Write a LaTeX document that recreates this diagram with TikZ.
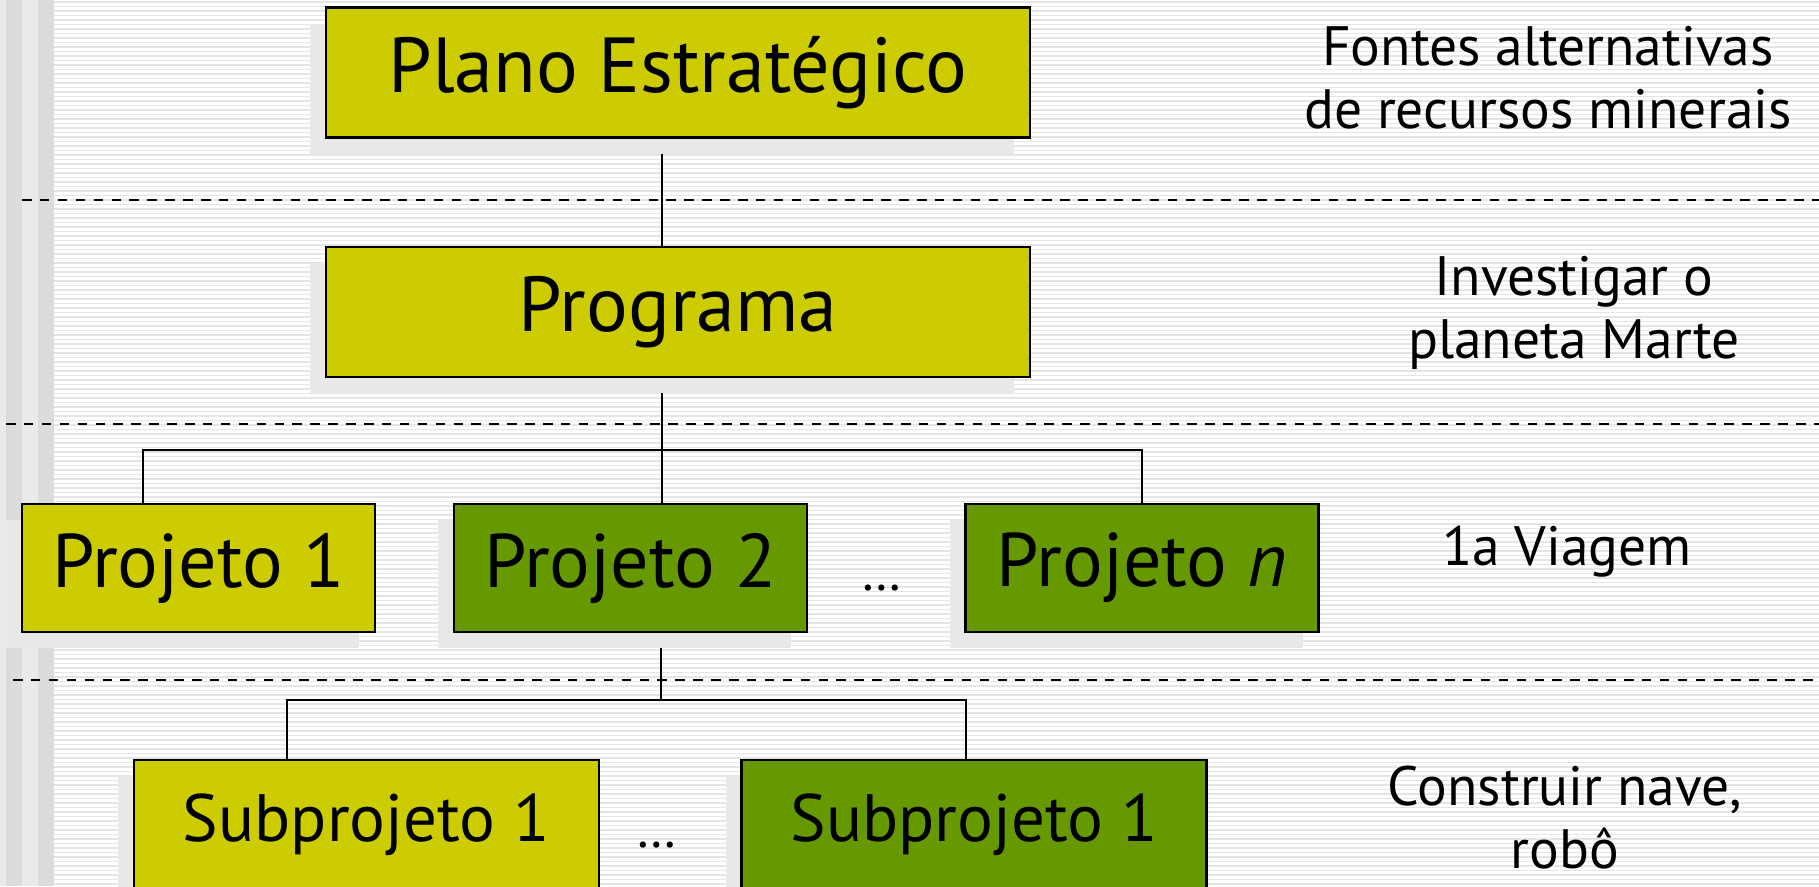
\documentclass[tikz,border=0pt]{standalone}
\usepackage{fontspec}
\setmainfont{PT Sans}
\usepackage{tikz}
\usetikzlibrary{positioning,shadows,calc}
\definecolor{olivebox}{HTML}{CCCC00}
\definecolor{greenbox}{HTML}{669900}
\definecolor{shadowgray}{HTML}{E8E8E8}
\definecolor{stripegray}{HTML}{E5E5E5}
\definecolor{bandgray}{HTML}{DCDCDC}
\definecolor{bandlight}{HTML}{EAEAEA}
\pgfdeclarelayer{bg}
\pgfdeclarelayer{edges}
\pgfsetlayers{bg,edges,main}
\tikzset{
  levelbox/.style = {rectangle, draw=black, line width=2.6pt, text=black,
    font=\fontsize{76}{80}\selectfont,
    general shadow={fill=shadowgray, shadow xshift=-16pt, shadow yshift=-16pt}},
  box_y/.style = {levelbox, fill=olivebox},% caixa amarela
  box_g/.style = {levelbox, fill=greenbox},% caixa verde
  box_wide/.style = {minimum width=704pt, minimum height=130pt,
    font=\fontsize{78}{82}\selectfont},
  box_proj/.style = {minimum width=353pt, minimum height=128pt},
  box_sub/.style = {minimum width=465pt, minimum height=130pt,
    font=\fontsize{67}{70}\selectfont},
  levellabel/.style = {align=center, font=\fontsize{55.5}{63}\selectfont},
  etc/.style = {font=\fontsize{53}{60}\selectfont},
  link/.style = {line width=2pt},
  sep/.style = {dash pattern=on 9.5pt off 8.4pt, line width=2.8pt}
}

\begin{document}
\begin{tikzpicture}[x=1pt,y=-1pt]
\useasboundingbox (0,0) rectangle (1819,886);

\begin{pgfonlayer}{bg}
\fill[white] (0,0) rectangle (1819,886);
\fill[bandlight] (0,0) rectangle (54,886);
\fill[bandgray] (6,0) rectangle (22,886);
\fill[bandgray] (38,0) rectangle (54,886);
\foreach \y in {2,6.5,...,886}
  \draw[stripegray, line width=1.4pt] (54,\y) -- (1819,\y);
\end{pgfonlayer}

% niveis
\node [box_y, box_wide] (plano) at (678,72.5) {Plano Estratégico};
\node [box_y, box_wide] (programa) at (678,312) {Programa};
\node [box_y, box_proj] (proj1) at (198.5,568) {Projeto 1};
\node [box_g, box_proj] (proj2) at (630.5,568) {Projeto 2};
\node [box_g, box_proj] (projn) at (1142,568) {Projeto \textit{n}};
\node [box_y, box_sub] (sub1) at (366.5,825) {Subprojeto 1};
\node [box_g, box_sub] (sub2) at (974,825) {Subprojeto 1};
\node [etc] (etc1) at (882,588) {…};
\node [etc] (etc2) at (657,845) {…};

\node [levellabel] (lbl1) at (1548,77.5) {Fontes alternativas\\de recursos minerais};
\node [levellabel] (lbl2) at (1574,312.5) {Investigar o\\planeta Marte};
\node [levellabel] (lbl3) at (1567,552) {1a Viagem};
\node [levellabel] (lbl4) at (1565,817.5) {Construir nave,\\robô};

\draw[sep] (22,200) -- (1819,200);
\draw[sep] (6,424) -- (1819,424);
\draw[sep] (13,680) -- (1819,680);

\coordinate (bus1) at (662,450);
\coordinate (bus2) at (661,700);
\begin{pgfonlayer}{edges}
\draw[link] (plano.south -| bus1) -- (programa.north -| bus1);
\draw[link] (programa.south -| bus1) -- (bus1) -- (proj2.north -| bus1);
\draw[link] ([xshift=-56pt]proj1.north) -- ([xshift=-56pt]proj1.north |- bus1)
  -- (projn.north |- bus1) -- (projn.north);
\draw[link] (proj2.south -| bus2) -- (bus2);
\draw[link] ([xshift=-80pt]sub1.north) -- ([xshift=-80pt]sub1.north |- bus2)
  -- ([xshift=-8pt]sub2.north |- bus2) -- ([xshift=-8pt]sub2.north);
\end{pgfonlayer}
\end{tikzpicture}
\end{document}
